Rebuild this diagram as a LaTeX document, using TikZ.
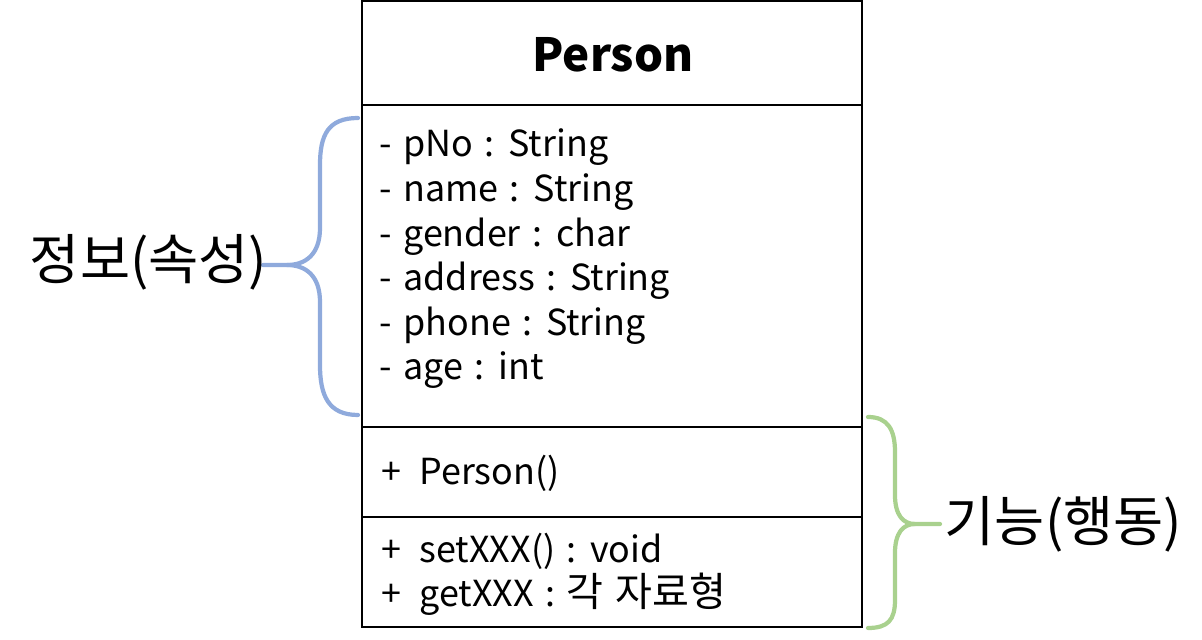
\documentclass[tikz,border=0pt]{standalone}
\usepackage{fontspec}
\setmainfont{Noto Sans CJK KR}
\newfontfamily\memberfont[WordSpace=1.4]{Noto Sans CJK KR}
\usepackage{tikz}

\definecolor{infoblue}{RGB}{143,170,220}
\definecolor{funcgreen}{RGB}{169,209,142}

\begin{document}
\begin{tikzpicture}[x=0.01cm,y=-0.01cm,
    part/.style={draw=black,line width=0.7pt},
    member/.style={anchor=base west,inner sep=0pt,font=\memberfont\fontsize{10.2pt}{12.7pt}\selectfont},
    label/.style={inner sep=0pt,font=\fontsize{15.5pt}{18pt}\selectfont},
    brace/.style={line width=1.2pt,line cap=round}]
      \useasboundingbox (0,0) rectangle (1202,640);
      % class box with its compartments
      \draw[part] (362,1) rectangle (862,627);
      \draw[part] (362,105)--(862,105);
      \draw[part] (362,427)--(862,427);
      \draw[part] (362,517)--(862,517);
      \node (name) at (613,72) [anchor=base,inner sep=0pt,font=\fontsize{13pt}{16pt}\selectfont\bfseries] {Person};

      \node (pno) at (379,157) [member] {- pNo : String};
      \node (pname) at (379,202) [member] {- name : String};
      \node (gender) at (379,247) [member] {- gender : char};
      \node (address) at (379,291) [member] {- address : String};
      \node (phone) at (379,336) [member] {- phone : String};
      \node (age) at (379,380) [member] {- age : int};

      \node (ctor) at (381,485) [member] {+\hspace{0.5em}Person()};
      \node (setter) at (381,563) [member] {+\hspace{0.5em}setXXX() : void};
      \node (getter) at (381,607) [member] {+\hspace{0.5em}getXXX : {\fontsize{11.4pt}{12.7pt}\selectfont 각 자료형}};

      % braces
      \coordinate (infotip) at (263,265);
      \coordinate (functip) at (940,524);
      \draw[brace,infoblue] (358,118) .. controls (328,118) and (320,135) .. (320,165) -- (320,228)
            .. controls (320,255) and (305,265) .. (287,265) -- (infotip);
      \draw[brace,infoblue] (287,265) .. controls (305,265) and (320,275) .. (320,302) -- (320,365)
            .. controls (320,395) and (328,415) .. (358,415);
      \draw[brace,funcgreen] (868,417) .. controls (888,417) and (895,430) .. (895,452) -- (895,495)
            .. controls (895,515) and (903,524) .. (915,524) -- (functip);
      \draw[brace,funcgreen] (915,524) .. controls (903,524) and (895,533) .. (895,553) -- (895,600)
            .. controls (895,620) and (888,628) .. (868,628);

      \node (info) at (268,262) [label,anchor=east] {정보(속성)};
      \node (func) at (944,524) [label,anchor=west] {기능(행동)};
\end{tikzpicture}
\end{document}
